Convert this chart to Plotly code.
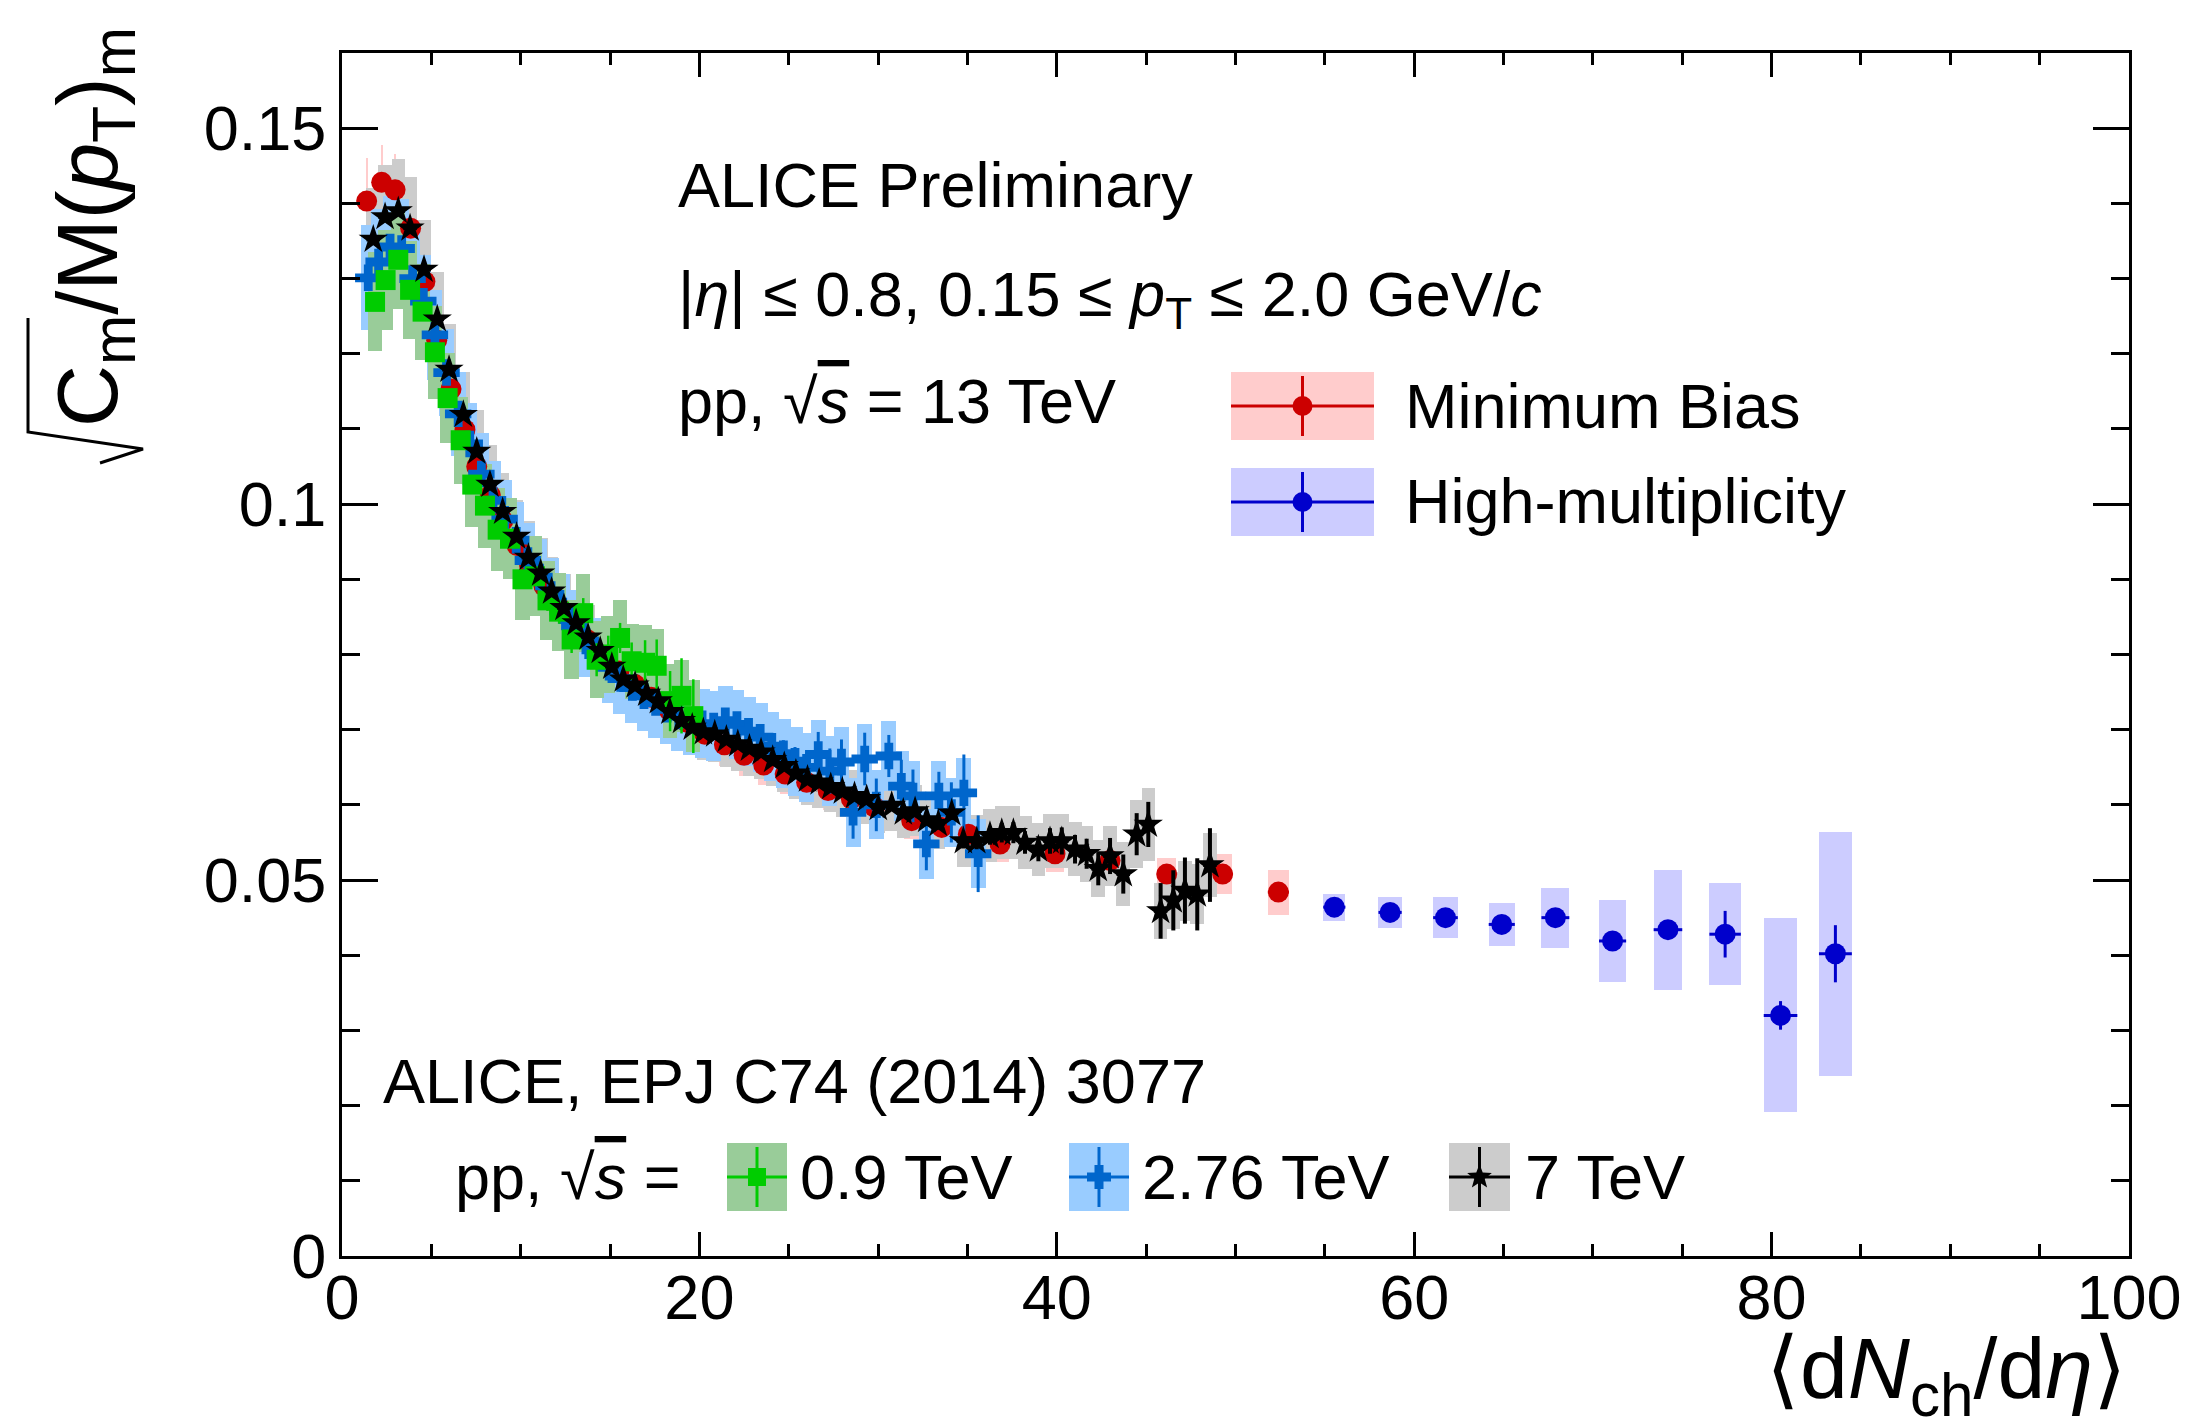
import math
import plotly.graph_objects as go

# ---------------- data ----------------
# 13 TeV Minimum Bias
mb_x = [1.38, 2.22, 2.97, 3.84, 4.64, 5.30, 6.10, 6.88, 7.54, 8.30, 9.00, 9.80, 10.50, 11.30, 12.10,
        12.90, 13.70, 14.60, 15.50, 16.40, 17.30, 18.30, 19.30, 20.30, 21.40, 22.50, 23.60, 24.80,
        26.00, 27.20, 28.50, 29.80, 31.88, 33.56, 35.05, 36.82, 39.90, 42.98, 46.15, 49.28, 52.40]
mb_y = [0.1403, 0.1428, 0.1418, 0.1367, 0.1296, 0.1218, 0.1153, 0.1099, 0.1050, 0.1012, 0.0978,
        0.0945, 0.0918, 0.0891, 0.0865, 0.0842, 0.0820, 0.0799, 0.0778, 0.0760, 0.0743, 0.0726,
        0.0710, 0.0694, 0.0680, 0.0666, 0.0653, 0.0641, 0.0630, 0.0619, 0.0608, 0.0597, 0.0579,
        0.0570, 0.0561, 0.0548, 0.0535, 0.0526, 0.0508, 0.0508, 0.0484]
mb_stat = [0.0004, 0.0004, 0.0004, 0.0004, 0.0004, 0.0004, 0.0004, 0.0004, 0.0004, 0.0004, 0.0004,
           0.0004, 0.0004, 0.0004, 0.0004, 0.0004, 0.0004, 0.0004, 0.0004, 0.0004, 0.0004, 0.0004,
           0.0004, 0.0004, 0.0004, 0.0004, 0.0004, 0.0004, 0.0004, 0.0004, 0.0004, 0.0004, 0.0004,
           0.0004, 0.0005, 0.0005, 0.0005, 0.0006, 0.0007, 0.0008, 0.0010]
mb_sys = [0.0058, 0.0050, 0.0048, 0.0045, 0.0042, 0.0040, 0.0038, 0.0037, 0.0036, 0.0035, 0.0034,
          0.0033, 0.0032, 0.0032, 0.0031, 0.0031, 0.0030, 0.0030, 0.0030, 0.0029, 0.0029, 0.0029,
          0.0028, 0.0028, 0.0028, 0.0027, 0.0027, 0.0027, 0.0026, 0.0026, 0.0026, 0.0025, 0.0025,
          0.0025, 0.0024, 0.0024, 0.0024, 0.0023, 0.0022, 0.0027, 0.0030]
mb_hw = [0.06, 0.06, 0.06, 0.06, 0.30, 0.30, 0.30, 0.30, 0.30, 0.30, 0.30, 0.30, 0.30, 0.30, 0.30,
         0.30, 0.30, 0.30, 0.30, 0.30, 0.30, 0.30, 0.30, 0.30, 0.30, 0.30, 0.30, 0.30, 0.30, 0.30,
         0.30, 0.30, 0.45, 0.45, 0.45, 0.50, 0.50, 0.50, 0.53, 0.55, 0.59]

# 13 TeV High-multiplicity
hm_x = [55.53, 58.65, 61.75, 64.90, 67.90, 71.10, 74.20, 77.40, 80.50, 83.57]
hm_y = [0.0464, 0.0457, 0.0450, 0.0441, 0.0450, 0.0419, 0.0434, 0.0428, 0.0320, 0.0402]
hm_stat = [0.0005, 0.0005, 0.0006, 0.0007, 0.0008, 0.0012, 0.0012, 0.0031, 0.0019, 0.0038]
hm_sys = [0.0018, 0.0021, 0.0027, 0.0029, 0.0040, 0.0054, 0.0080, 0.0068, 0.0129, 0.0162]
hm_hw = [0.62, 0.65, 0.69, 0.73, 0.78, 0.76, 0.80, 0.88, 0.94, 0.92]

# 0.9 TeV (EPJ C74 3077)
g_x = [1.85, 2.44, 3.15, 3.81, 4.51, 5.20, 5.91, 6.64, 7.29, 8.00, 8.71, 9.40, 10.10, 10.80,
       11.50, 12.15, 12.85, 13.50, 14.25, 14.90, 15.56, 16.21, 16.96, 17.61, 18.36, 19.00, 19.66]
g_y = [0.1269, 0.1298, 0.1325, 0.1285, 0.1256, 0.1202, 0.1141, 0.1085, 0.1026, 0.0998, 0.0966,
       0.0954, 0.0900, 0.0904, 0.0872, 0.0857, 0.0820, 0.0855, 0.0793, 0.0800, 0.0822, 0.0791,
       0.0789, 0.0785, 0.0738, 0.0745, 0.0718]
g_stat = [0.0004, 0.0004, 0.0004, 0.0004, 0.0004, 0.0005, 0.0005, 0.0005, 0.0006, 0.0006, 0.0007,
          0.0008, 0.0010, 0.0012, 0.0014, 0.0016, 0.0018, 0.0020, 0.0022, 0.0025, 0.0020, 0.0025,
          0.0030, 0.0035, 0.0040, 0.0050, 0.0049]
g_sys = [0.0066, 0.0066, 0.0066, 0.0065, 0.0064, 0.0062, 0.0060, 0.0058, 0.0057, 0.0056, 0.0055,
         0.0054, 0.0054, 0.0053, 0.0053, 0.0052, 0.0052, 0.0052, 0.0051, 0.0051, 0.0050, 0.0050,
         0.0050, 0.0049, 0.0049, 0.0048, 0.0048]
g_hw = [0.40] * 27

# 2.76 TeV
b_x = [1.47, 2.05, 2.69, 3.34, 3.95, 4.55, 5.20, 5.85, 6.50, 7.15, 7.80, 8.45, 9.10, 9.75, 10.40,
       11.05, 11.70, 12.35, 13.00, 13.65, 14.30, 14.95, 15.60, 16.25, 16.90, 17.55, 18.20, 18.85,
       19.50, 20.15, 20.80, 21.45, 22.10, 22.75, 23.40, 24.05, 24.70, 25.35, 26.00, 26.65, 27.30,
       27.95, 28.60, 29.25, 29.90, 30.60, 31.30, 31.95, 32.70, 33.40, 34.10, 34.80, 35.60]
b_y = [0.1301, 0.1322, 0.1342, 0.1340, 0.1300, 0.1270, 0.1225, 0.1175, 0.1120, 0.1080, 0.1040,
       0.1005, 0.0980, 0.0952, 0.0925, 0.0903, 0.0880, 0.0858, 0.0838, 0.0818, 0.0800, 0.0783,
       0.0768, 0.0756, 0.0745, 0.0736, 0.0727, 0.0718, 0.0712, 0.0708, 0.0705, 0.0712, 0.0707,
       0.0698, 0.0690, 0.0678, 0.0668, 0.0658, 0.0650, 0.0667, 0.0645, 0.0657, 0.0590, 0.0661,
       0.0600, 0.0665, 0.0625, 0.0612, 0.0548, 0.0612, 0.0590, 0.0616, 0.0535]
b_stat = [0.0004, 0.0004, 0.0004, 0.0004, 0.0004, 0.0004, 0.0004, 0.0004, 0.0004, 0.0004, 0.0004,
          0.0004, 0.0004, 0.0004, 0.0004, 0.0004, 0.0004, 0.0004, 0.0004, 0.0004, 0.0006, 0.0006,
          0.0007, 0.0007, 0.0008, 0.0008, 0.0009, 0.0009, 0.0010, 0.0010, 0.0012, 0.0013, 0.0014,
          0.0015, 0.0016, 0.0017, 0.0018, 0.0019, 0.0020, 0.0030, 0.0030, 0.0030, 0.0035, 0.0035,
          0.0035, 0.0028, 0.0035, 0.0035, 0.0035, 0.0032, 0.0040, 0.0051, 0.0051]
b_sys = [0.0070, 0.0070, 0.0068, 0.0066, 0.0064, 0.0062, 0.0060, 0.0058, 0.0056, 0.0055, 0.0054,
         0.0053, 0.0052, 0.0051, 0.0050, 0.0050, 0.0049, 0.0049, 0.0048, 0.0048, 0.0048, 0.0048,
         0.0047, 0.0047, 0.0047, 0.0047, 0.0046, 0.0046, 0.0046, 0.0046, 0.0046, 0.0046, 0.0046,
         0.0046, 0.0046, 0.0046, 0.0046, 0.0046, 0.0046, 0.0046, 0.0046, 0.0046, 0.0046, 0.0046,
         0.0046, 0.0046, 0.0046, 0.0046, 0.0046, 0.0046, 0.0046, 0.0046, 0.0046]
b_hw = [0.42] * 53

# 7 TeV
s_x = [1.75, 2.41, 3.15, 3.81, 4.59, 5.33, 5.99, 6.79, 7.54, 8.28, 8.99, 9.77, 10.43, 11.12, 11.73,
       12.42, 13.10, 13.77, 14.45, 15.10, 15.74, 16.40, 17.05, 17.70, 18.35, 19.00, 19.60, 20.22,
       20.86, 21.51, 22.15, 22.80, 23.45, 24.10, 24.75, 25.40, 26.05, 26.70, 27.35, 28.00, 28.68,
       29.36, 30.01, 30.76, 31.41, 32.07, 32.72, 33.37, 34.12, 34.77, 35.52, 36.26, 36.92, 37.57,
       38.22, 38.97, 39.62, 40.28, 41.02, 41.67, 42.32, 42.98, 43.72, 44.47, 45.12, 45.81, 46.52,
       47.17, 47.86, 48.57]
s_y = [0.1352, 0.1382, 0.1390, 0.1367, 0.1312, 0.1246, 0.1179, 0.1119, 0.1070, 0.1026, 0.0990,
       0.0957, 0.0929, 0.0908, 0.0884, 0.0862, 0.0842, 0.0823, 0.0805, 0.0784, 0.0767, 0.0759,
       0.0748, 0.0738, 0.0724, 0.0712, 0.0703, 0.0697, 0.0694, 0.0687, 0.0681, 0.0675, 0.0670,
       0.0660, 0.0652, 0.0642, 0.0634, 0.0630, 0.0624, 0.0618, 0.0612, 0.0608, 0.0596, 0.0599,
       0.0590, 0.0592, 0.0580, 0.0575, 0.0589, 0.0552, 0.0552, 0.0559, 0.0563, 0.0563, 0.0550,
       0.0541, 0.0552, 0.0552, 0.0541, 0.0535, 0.0515, 0.0532, 0.0508, 0.0561, 0.0574, 0.0459,
       0.0473, 0.0486, 0.0481, 0.0520]
s_stat = [0.0003, 0.0003, 0.0003, 0.0003, 0.0003, 0.0003, 0.0003, 0.0003, 0.0003, 0.0003, 0.0003,
          0.0003, 0.0003, 0.0003, 0.0003, 0.0003, 0.0003, 0.0003, 0.0003, 0.0003, 0.0003, 0.0003,
          0.0003, 0.0003, 0.0003, 0.0003, 0.0003, 0.0003, 0.0003, 0.0003, 0.0003, 0.0003, 0.0003,
          0.0003, 0.0003, 0.0003, 0.0003, 0.0003, 0.0003, 0.0003, 0.0003, 0.0005, 0.0005, 0.0006,
          0.0006, 0.0007, 0.0007, 0.0008, 0.0009, 0.0010, 0.0011, 0.0012, 0.0013, 0.0014, 0.0015,
          0.0016, 0.0017, 0.0018, 0.0019, 0.0020, 0.0022, 0.0024, 0.0026, 0.0028, 0.0030, 0.0037,
          0.0040, 0.0044, 0.0048, 0.0049]
s_sys = [0.0068, 0.0069, 0.0069, 0.0068, 0.0066, 0.0063, 0.0060, 0.0057, 0.0055, 0.0053, 0.0051,
         0.0049, 0.0048, 0.0047, 0.0046, 0.0045, 0.0044, 0.0043, 0.0042, 0.0041, 0.0040, 0.0040,
         0.0039, 0.0039, 0.0038, 0.0038, 0.0037, 0.0037, 0.0037, 0.0036, 0.0036, 0.0036, 0.0035,
         0.0035, 0.0035, 0.0034, 0.0034, 0.0034, 0.0034, 0.0034, 0.0034, 0.0034, 0.0034, 0.0034,
         0.0034, 0.0034, 0.0034, 0.0034, 0.0034, 0.0035, 0.0035, 0.0035, 0.0035, 0.0035, 0.0035,
         0.0035, 0.0036, 0.0036, 0.0036, 0.0037, 0.0038, 0.0040, 0.0042, 0.0045, 0.0048, 0.0037,
         0.0038, 0.0040, 0.0040, 0.0042]
s_hw = [0.38] * 70

x_ticks = [0, 20, 40, 60, 80, 100]
y_ticks = [0, 0.05, 0.1, 0.15]
y_ticktext = ["0", "0.05", "0.1", "0.15"]

# ---------------- styling / geometry ----------------
W, H = 2196, 1422
ML, MR, MT, MB = 342, 67, 53, 166
PW, PH = W - ML - MR, H - MT - MB
FONT = "Liberation Sans, Arial, Helvetica, sans-serif"
TXT = 63

C_MB, C_MB_BOX = "#cc0000", "#ffcccc"
C_HM, C_HM_BOX = "#0000cc", "#ccccff"
C_G, C_G_BOX = "#00cc00", "#99cc99"
C_B, C_B_BOX = "#0066cc", "#99ccff"
C_S, C_S_BOX = "#000000", "#cccccc"


def px(X):
    return (X - ML) / PW


def py(Y):
    return (H - MB - Y) / PH


def sys_bars(x, y, sys, hw, color):
    return go.Bar(x=x, y=[2 * s for s in sys], base=[v - s for v, s in zip(y, sys)],
                  width=[2 * h for h in hw], marker=dict(color=color, line=dict(width=0)),
                  showlegend=False, hoverinfo="skip")


def points(x, y, stat, hw, color, symbol, size, thick=3):
    return go.Scatter(x=x, y=y, mode="markers",
                      marker=dict(symbol=symbol, size=size, color=color, line=dict(width=0)),
                      error_y=dict(type="data", array=stat, color=color, thickness=thick, width=0),
                      error_x=dict(type="data", array=hw, color=color, thickness=thick, width=0),
                      showlegend=False, hoverinfo="skip")


fig = go.Figure()
fig.add_trace(sys_bars(mb_x, mb_y, mb_sys, mb_hw, C_MB_BOX))
fig.add_trace(sys_bars(s_x, s_y, s_sys, s_hw, C_S_BOX))
fig.add_trace(sys_bars(b_x, b_y, b_sys, b_hw, C_B_BOX))
fig.add_trace(sys_bars(g_x, g_y, g_sys, g_hw, C_G_BOX))
fig.add_trace(sys_bars(hm_x, hm_y, hm_sys, hm_hw, C_HM_BOX))

fig.add_trace(points(mb_x, mb_y, mb_stat, mb_hw, C_MB, "circle", 21))
fig.add_trace(points(b_x, b_y, b_stat, b_hw, C_B, "cross", 22))
fig.add_trace(points(g_x, g_y, g_stat, g_hw, C_G, "square", 20, 2.5))
fig.add_trace(points(s_x, s_y, s_stat, s_hw, C_S, "star", 22, 4))
fig.add_trace(points(hm_x, hm_y, hm_stat, hm_hw, C_HM, "circle", 21))

# ---------------- legend symbols and radical (decorations in paper coords) ----------------
shapes = []


def rect(X0, X1, Y0, Y1, color):
    shapes.append(dict(type="rect", xref="paper", yref="paper", x0=px(X0), x1=px(X1),
                       y0=py(Y1), y1=py(Y0), fillcolor=color, line=dict(width=0)))


def seg(X0, Y0, X1, Y1, color, w=3):
    shapes.append(dict(type="line", xref="paper", yref="paper", x0=px(X0), y0=py(Y0),
                       x1=px(X1), y1=py(Y1), line=dict(color=color, width=w)))


def polyline(pts, color, w=3):
    d = "M " + " L ".join(f"{px(a):.5f},{py(b):.5f}" for a, b in pts)
    shapes.append(dict(type="path", xref="paper", yref="paper", path=d,
                       fillcolor="rgba(0,0,0,0)", line=dict(color=color, width=w)))


def pix_path(Xc, Yc, pts, color):
    d = "M " + " L ".join(f"{a:.2f},{b:.2f}" for a, b in pts) + " Z"
    shapes.append(dict(type="path", xref="paper", yref="paper", xsizemode="pixel",
                       ysizemode="pixel", xanchor=px(Xc), yanchor=py(Yc), path=d,
                       fillcolor=color, line=dict(width=0)))


def pix_circle(Xc, Yc, r, color):
    shapes.append(dict(type="circle", xref="paper", yref="paper", xsizemode="pixel",
                       ysizemode="pixel", xanchor=px(Xc), yanchor=py(Yc), x0=-r, x1=r, y0=-r,
                       y1=r, fillcolor=color, line=dict(width=0)))


def star_pts(R):
    out = []
    for k in range(10):
        a = math.radians(90 + 36 * k)
        rr = R if k % 2 == 0 else R * 0.42
        out.append((rr * math.cos(a), rr * math.sin(a)))
    return out


def plus_pts(a, t):
    return [(-t, a), (t, a), (t, t), (a, t), (a, -t), (t, -t), (t, -a), (-t, -a), (-t, -t),
            (-a, -t), (-a, t), (-t, t)]


def legend_entry(X0, X1, Y0, Y1, box, col, kind):
    rect(X0, X1, Y0, Y1, box)
    xc, yc = (X0 + X1) / 2, (Y0 + Y1) / 2
    seg(X0, yc, X1, yc, col, 3)
    seg(xc, Y0 + 4, xc, Y1 - 4, col, 3)
    if kind == "circle":
        pix_circle(xc, yc, 10, col)
    elif kind == "square":
        pix_path(xc, yc, [(-9, -9), (9, -9), (9, 9), (-9, 9)], col)
    elif kind == "cross":
        pix_path(xc, yc, plus_pts(12, 4.5), col)
    elif kind == "star":
        pix_path(xc, yc, star_pts(13), col)


legend_entry(1231, 1374, 372, 440, C_MB_BOX, C_MB, "circle")
legend_entry(1231, 1374, 468, 536, C_HM_BOX, C_HM, "circle")
legend_entry(727, 787, 1143, 1211, C_G_BOX, C_G, "square")
legend_entry(1069, 1129, 1143, 1211, C_B_BOX, C_B, "cross")
legend_entry(1449, 1510, 1143, 1211, C_S_BOX, C_S, "star")

# radical sign of the y-axis title (rotated), drawn as a polyline
polyline([(100, 463), (143, 449), (28, 432), (28, 318)], "black", 3)

# ---------------- texts ----------------
ann = []


def text(X, Y, s, size=TXT, xanchor="left", yanchor="middle", angle=0):
    ann.append(dict(x=px(X), y=py(Y), xref="paper", yref="paper", text=s, showarrow=False,
                    xanchor=xanchor, yanchor=yanchor, textangle=angle,
                    font=dict(family=FONT, size=size, color="black")))


OV = "<span style='text-decoration:overline'>"
text(676, 185, "ALICE Preliminary")
text(676, 298, "|<i>η</i>| ≤ 0.8, 0.15 ≤ <i>p</i><sub>T</sub> ≤ 2.0 GeV/<i>c</i>")
text(676, 401, "pp, √" + OV + "<i>s</i></span> = 13 TeV")
text(1403, 406, "Minimum Bias")
text(1403, 501, "High-multiplicity")
text(381, 1081, "ALICE, EPJ C74 (2014) 3077")
text(453, 1177, "pp, √" + OV + "<i>s</i></span> =")
text(798, 1177, "0.9 TeV")
text(1140, 1177, "2.76 TeV")
text(1523, 1177, "7 TeV")
text(2129, 1374, "⟨d<i>N</i><sub>ch</sub>/d<i>η</i>⟩", size=86, xanchor="right")
text(93, 429, "C<sub>m</sub>/M(<i>p</i><sub>T</sub>)<sub>m</sub>", size=86,
     xanchor="center", yanchor="bottom", angle=-90)

axis_common = dict(ticks="inside", tickwidth=3, tickcolor="black", showline=True, linewidth=3,
                   linecolor="black", mirror="allticks", showgrid=False, zeroline=False,
                   automargin=False, tickfont=dict(family=FONT, size=TXT, color="black"))

fig.update_xaxes(range=[0, 100], tickvals=x_ticks, ticklen=24, ticklabelstandoff=-16,
                 minor=dict(ticks="inside", ticklen=12, tickwidth=3, tickcolor="black",
                            dtick=5, tick0=0, showgrid=False),
                 **axis_common)
fig.update_yaxes(range=[0, 0.16], tickvals=y_ticks, ticktext=y_ticktext, ticklen=36,
                 minor=dict(ticks="inside", ticklen=18, tickwidth=3, tickcolor="black",
                            dtick=0.01, tick0=0, showgrid=False),
                 **axis_common)

fig.update_layout(width=W, height=H, margin=dict(l=ML, r=MR, t=MT, b=MB, pad=0, autoexpand=False),
                  plot_bgcolor="white", paper_bgcolor="white", barmode="overlay", bargap=0,
                  showlegend=False, shapes=shapes, annotations=ann,
                  font=dict(family=FONT, color="black"))

fig.write_html("out.html")
